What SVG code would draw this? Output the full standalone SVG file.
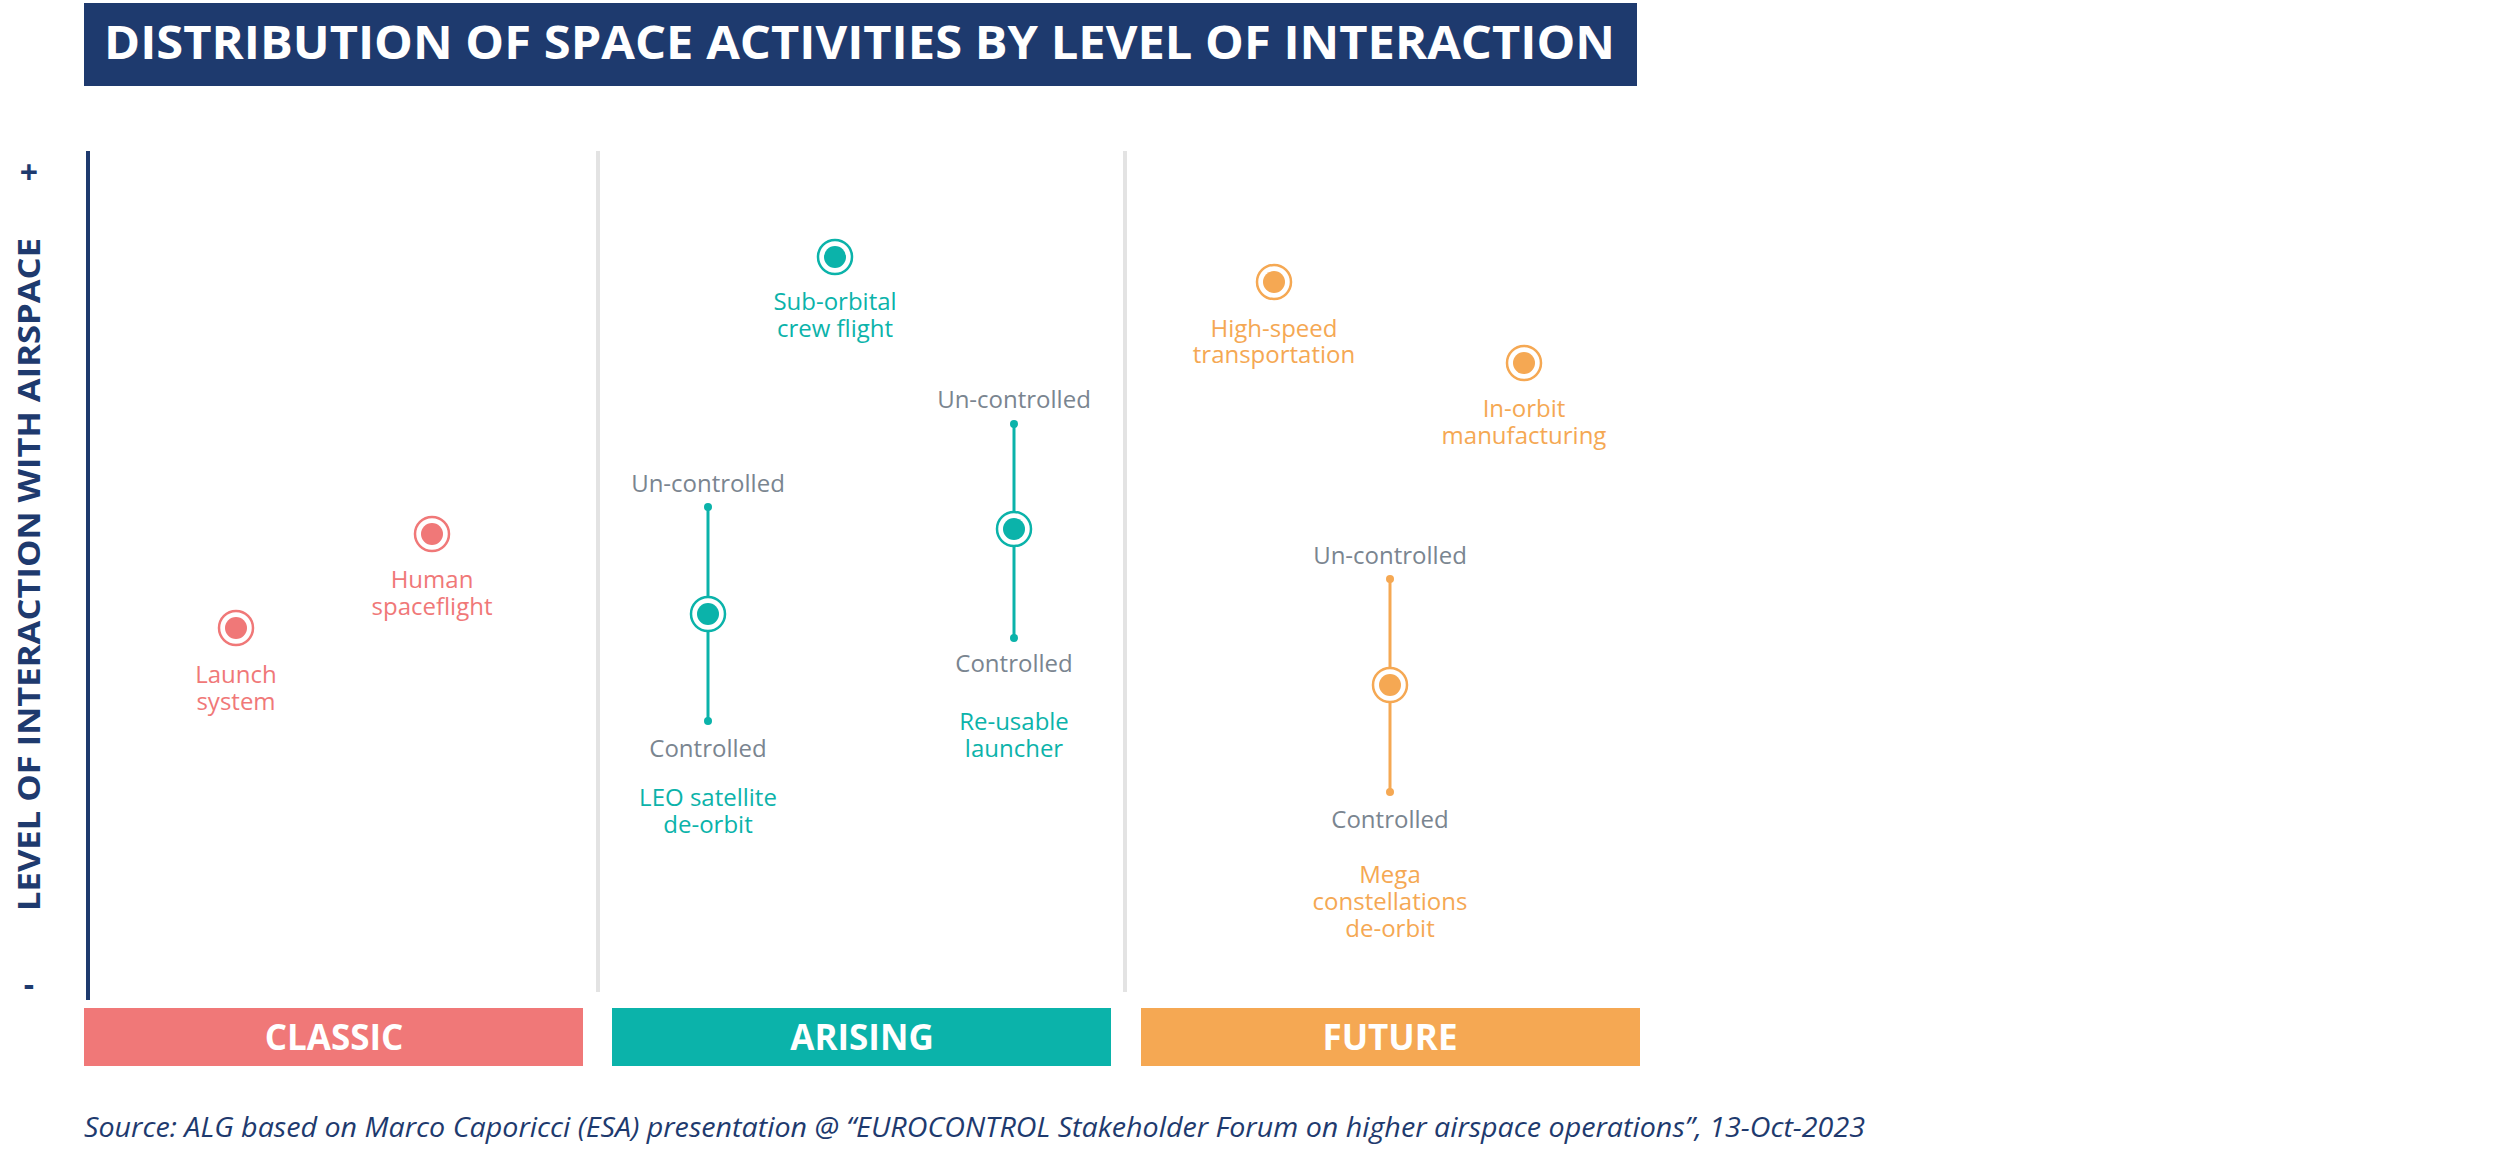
<svg xmlns="http://www.w3.org/2000/svg" width="2500" height="1152" viewBox="0 0 2500 1152">
<style>
text{font-family:"Open Sans","Liberation Sans",sans-serif}
.l{font-size:24px;text-anchor:middle}
.g{fill:#7A8590}.p{fill:#F07878}.t{fill:#0BB3AA}.o{fill:#F5A853}
.bar{font-size:35px;font-weight:bold;fill:#fff;text-anchor:middle}
.div{stroke:#E3E3E3;stroke-width:4}
</style>
<rect width="2500" height="1152" fill="#fff"/>
<rect x="84" y="3" width="1553" height="83" fill="#1E3A6E"/>
<text x="104" y="59" font-size="46" font-weight="bold" fill="#fff" textLength="1511" lengthAdjust="spacingAndGlyphs">DISTRIBUTION OF SPACE ACTIVITIES BY LEVEL OF INTERACTION</text>
<line x1="88" y1="151" x2="88" y2="1000" stroke="#1E3A6E" stroke-width="4"/>
<line class="div" x1="598" y1="151" x2="598" y2="992"/>
<line class="div" x1="1125" y1="151" x2="1125" y2="992"/>
<text transform="translate(40,911) rotate(-90)" font-size="30" font-weight="bold" fill="#1E3A6E" textLength="673" lengthAdjust="spacingAndGlyphs">LEVEL OF INTERACTION WITH AIRSPACE</text>
<text x="29" y="184" font-size="32" font-weight="bold" fill="#1E3A6E" text-anchor="middle">+</text>
<text x="29" y="996" font-size="32" font-weight="bold" fill="#1E3A6E" text-anchor="middle">-</text>
<g id="classic"><rect x="84" y="1008" width="499" height="58" fill="#F07878"/><text class="bar" x="334" y="1050">CLASSIC</text></g>
<g id="arising"><rect x="612" y="1008" width="499" height="58" fill="#0BB3AA"/><text class="bar" x="862" y="1050">ARISING</text></g>
<g id="future"><rect x="1141" y="1008" width="499" height="58" fill="#F5A853"/><text class="bar" x="1390" y="1050">FUTURE</text></g>
<g id="connectors" stroke-width="3">
<line x1="708" y1="507" x2="708" y2="721" stroke="#0BB3AA"/>
<circle cx="708" cy="507" r="4" fill="#0BB3AA"/><circle cx="708" cy="721" r="4" fill="#0BB3AA"/>
<line x1="1014" y1="424" x2="1014" y2="638" stroke="#0BB3AA"/>
<circle cx="1014" cy="424" r="4" fill="#0BB3AA"/><circle cx="1014" cy="638" r="4" fill="#0BB3AA"/>
<line x1="1390" y1="579" x2="1390" y2="792" stroke="#F5A853"/>
<circle cx="1390" cy="579" r="4" fill="#F5A853"/><circle cx="1390" cy="792" r="4" fill="#F5A853"/>
</g>
<g id="launch"><circle cx="236" cy="628" r="17" fill="#fff" stroke="#F07878" stroke-width="2.5"/><circle cx="236" cy="628" r="11" fill="#F07878"/>
<text class="l p" x="236" y="683">Launch</text><text class="l p" x="236" y="710">system</text></g>
<g id="human"><circle cx="432" cy="534" r="17" fill="#fff" stroke="#F07878" stroke-width="2.5"/><circle cx="432" cy="534" r="11" fill="#F07878"/>
<text class="l p" x="432" y="588">Human</text><text class="l p" x="432" y="615">spaceflight</text></g>
<g id="leo"><circle cx="708" cy="614" r="17" fill="#fff" stroke="#0BB3AA" stroke-width="2.5"/><circle cx="708" cy="614" r="11" fill="#0BB3AA"/>
<text class="l g" x="708" y="492">Un-controlled</text><text class="l g" x="708" y="757">Controlled</text>
<text class="l t" x="708" y="806">LEO satellite</text><text class="l t" x="708" y="833">de-orbit</text></g>
<g id="suborbital"><circle cx="835" cy="257" r="17" fill="#fff" stroke="#0BB3AA" stroke-width="2.5"/><circle cx="835" cy="257" r="11" fill="#0BB3AA"/>
<text class="l t" x="835" y="310">Sub-orbital</text><text class="l t" x="835" y="337">crew flight</text></g>
<g id="reusable"><circle cx="1014" cy="529" r="17" fill="#fff" stroke="#0BB3AA" stroke-width="2.5"/><circle cx="1014" cy="529" r="11" fill="#0BB3AA"/>
<text class="l g" x="1014" y="408">Un-controlled</text><text class="l g" x="1014" y="672">Controlled</text>
<text class="l t" x="1014" y="730">Re-usable</text><text class="l t" x="1014" y="757">launcher</text></g>
<g id="highspeed"><circle cx="1274" cy="282" r="17" fill="#fff" stroke="#F5A853" stroke-width="2.5"/><circle cx="1274" cy="282" r="11" fill="#F5A853"/>
<text class="l o" x="1274" y="337">High-speed</text><text class="l o" x="1274" y="363">transportation</text></g>
<g id="inorbit"><circle cx="1524" cy="363" r="17" fill="#fff" stroke="#F5A853" stroke-width="2.5"/><circle cx="1524" cy="363" r="11" fill="#F5A853"/>
<text class="l o" x="1524" y="417">In-orbit</text><text class="l o" x="1524" y="444">manufacturing</text></g>
<g id="mega"><circle cx="1390" cy="685" r="17" fill="#fff" stroke="#F5A853" stroke-width="2.5"/><circle cx="1390" cy="685" r="11" fill="#F5A853"/>
<text class="l g" x="1390" y="564">Un-controlled</text><text class="l g" x="1390" y="828">Controlled</text>
<text class="l o" x="1390" y="883">Mega</text><text class="l o" x="1390" y="910">constellations</text><text class="l o" x="1390" y="937">de-orbit</text></g>
<text x="84" y="1137" font-size="27" font-style="italic" fill="#1E3A6E" textLength="1781" lengthAdjust="spacingAndGlyphs">Source: ALG based on Marco Caporicci (ESA) presentation @ “EUROCONTROL Stakeholder Forum on higher airspace operations”, 13-Oct-2023</text>
</svg>
